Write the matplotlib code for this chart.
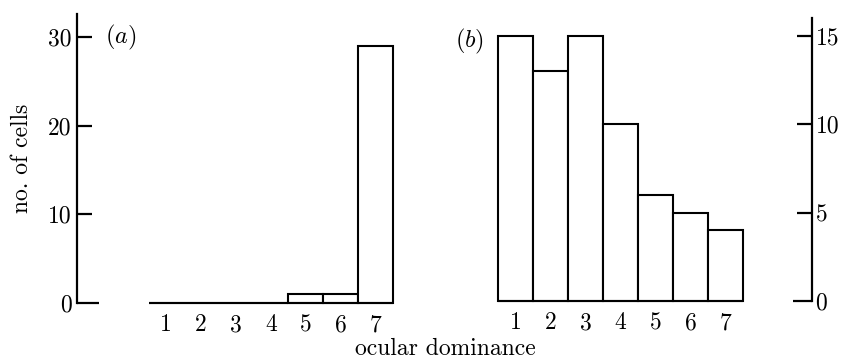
import matplotlib

matplotlib.use("Agg")
import matplotlib.pyplot as plt
import numpy as np

plt.rcParams["font.family"] = ["cmr10", "DejaVu Serif"]
plt.rcParams["mathtext.fontset"] = "cm"
plt.rcParams["axes.formatter.use_mathtext"] = True

CATEGORIES = [1, 2, 3, 4, 5, 6, 7]
CELLS_A = [0, 0, 0, 0, 1, 1, 29]
CELLS_B = [15, 13, 15, 10, 6, 5, 4]
YTICKS_A = [0, 10, 20, 30]
YTICKS_B = [0, 5, 10, 15]

W, H = 841, 363
FONT_SIZE = 17
LINE = 1.5


def px_box(left, top, right, bottom):
    """Convert a pixel box to figure fraction [l, b, w, h]."""
    return [left / W, 1 - bottom / H, (right - left) / W, (bottom - top) / H]


def draw_bars(ax, values):
    x = np.array(CATEGORIES)
    ax.bar(x, values, width=1.0, facecolor="white", edgecolor="black",
           linewidth=LINE, clip_on=False, zorder=3)
    ax.hlines(0, x[0] - 0.5, x[-1] + 0.5, color="black", linewidth=LINE,
              clip_on=False, zorder=4)
    ax.set_xticks(x)
    ax.set_xticklabels([str(c) for c in CATEGORIES])
    ax.tick_params(axis="x", length=0, pad=8, labelsize=FONT_SIZE)
    ax.spines["top"].set_visible(False)
    ax.spines["bottom"].set_visible(False)


fig = plt.figure(figsize=(W / 100, H / 100), dpi=100)

# panel (a): left axis
ax_a = fig.add_axes(px_box(77, 14, 393, 303))
draw_bars(ax_a, CELLS_A)
ax_a.set_xlim(-1.56, 7.5)
ax_a.set_ylim(0, 32.6)
ax_a.spines["right"].set_visible(False)
ax_a.spines["left"].set_linewidth(1.6)
ax_a.set_yticks(YTICKS_A)
ax_a.set_yticklabels([str(t) for t in YTICKS_A])
ax_a.tick_params(axis="y", direction="in", length=11, width=1.6,
                 pad=4, labelsize=FONT_SIZE)
ax_a.yaxis.get_major_ticks()[0].tick1line.set_markersize(16)
ax_a.text(-0.75, 30, r"$(a)$", fontsize=17.5, ha="left", va="center")

# panel (b): right axis
ax_b = fig.add_axes(px_box(498, 18, 812, 301))
draw_bars(ax_b, CELLS_B)
ax_b.set_xlim(0.5, 9.47)
ax_b.set_ylim(0, 16)
ax_b.spines["left"].set_visible(False)
ax_b.spines["right"].set_linewidth(1.6)
ax_b.yaxis.tick_right()
ax_b.set_yticks(YTICKS_B)
ax_b.set_yticklabels([str(t) for t in YTICKS_B])
ax_b.tick_params(axis="y", direction="in", length=10.5, width=1.6,
                 pad=2.5, labelsize=FONT_SIZE)
ax_b.yaxis.get_major_ticks()[0].tick2line.set_markersize(14)
ax_b.text(-0.3, 14.7, r"$(b)$", fontsize=17.5, ha="center", va="center")

fig.text(445 / W, 1 - 349 / H, "ocular dominance", fontsize=FONT_SIZE,
         ha="center", va="center")
fig.text(22 / W, 1 - 158 / H, "no. of cells", fontsize=FONT_SIZE,
         ha="center", va="center", rotation=90)

fig.savefig("out.png", dpi=100, facecolor="white")
